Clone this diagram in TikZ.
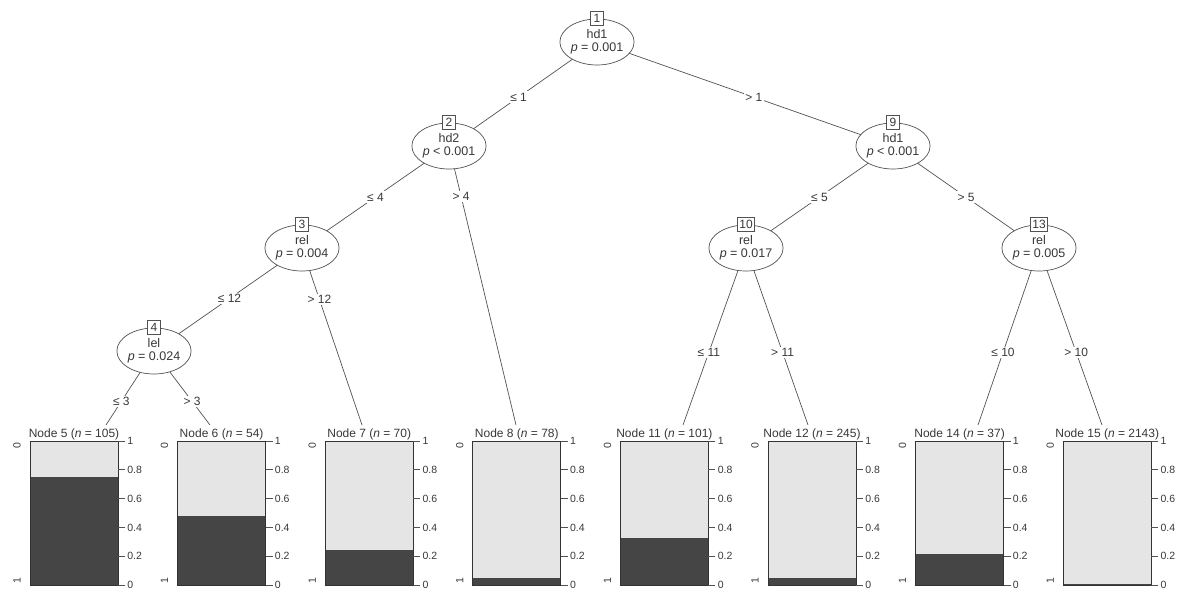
\documentclass[tikz,border=0pt]{standalone}
\usepackage{fontspec}
\setmainfont{Liberation Sans}
\usetikzlibrary{shapes.geometric,backgrounds}
\definecolor{darkbar}{gray}{0.27}
\definecolor{lightbar}{gray}{0.9}
\definecolor{ink}{gray}{0.22}
\definecolor{linec}{gray}{0.32}
\tikzset{
  inner/.style={ellipse, draw=linec, line width=0.7pt, fill=white, minimum width=68pt, minimum height=46pt, inner sep=0pt, text=ink, align=center, font=\fontsize{12.5}{13.5}\selectfont},
  idbox/.style={rectangle, draw=linec, line width=0.7pt, fill=white, inner sep=1.5pt, minimum height=14pt, minimum width=13pt, text=ink, font=\fontsize{12}{12}\selectfont},
  conn/.style={draw=linec, line width=0.7pt},
  elab/.style={fill=white, inner sep=1.5pt, text=ink, font=\fontsize{12}{12}\selectfont},
  leaftitle/.style={inner sep=1pt, text=ink, font=\fontsize{12}{12}\selectfont},
  ticklab/.style={inner sep=2pt, text=ink, font=\fontsize{10.5}{10.5}\selectfont},
  clslab/.style={inner sep=0pt, text=ink, rotate=90, font=\fontsize{10.5}{10.5}\selectfont},
  barframe/.style={draw=black!80, line width=0.7pt},
  axisline/.style={draw=linec, line width=0.7pt}
}
\begin{document}
\begin{tikzpicture}[x=1pt,y=-1pt]
\useasboundingbox (0,0) rectangle (1192,594);

% inner nodes
\node[inner] (n1) at (597,42) {hd1\\\textit{p} = 0.001};
\node[inner] (n2) at (449,146) {hd2\\\textit{p} < 0.001};
\node[inner] (n9) at (893,146) {hd1\\\textit{p} < 0.001};
\node[inner] (n3) at (302,248) {rel\\\textit{p} = 0.004};
\node[inner] (n10) at (746,248) {rel\\\textit{p} = 0.017};
\node[inner] (n13) at (1039,248) {rel\\\textit{p} = 0.005};
\node[inner] (n4) at (154,351) {lel\\\textit{p} = 0.024};

\node[idbox] (b1) at (n1.north) {1};
\node[idbox] (b2) at (n2.north) {2};
\node[idbox] (b9) at (n9.north) {9};
\node[idbox] (b3) at (n3.north) {3};
\node[idbox] (b10) at (n10.north) {10};
\node[idbox] (b13) at (n13.north) {13};
\node[idbox] (b4) at (n4.north) {4};

% leaf connector ends
\coordinate (e5) at (106,425);
\coordinate (e6) at (210,425);
\coordinate (e7) at (362,425);
\coordinate (e8) at (516,425);
\coordinate (e11) at (683,425);
\coordinate (e12) at (808,425);
\coordinate (e14) at (978,425);
\coordinate (e15) at (1102,425);

\begin{scope}[on background layer]
\draw[conn] (n1.center) -- (n2.center) node[elab,pos=0.53] {≤ 1};
\draw[conn] (n1.center) -- (n9.center) node[elab,pos=0.53] {> 1};
\draw[conn] (n2.center) -- (n3.center) node[elab,pos=0.5] {≤ 4};
\draw[conn] (n2.center) -- (e8) node[elab,pos=0.18] {> 4};
\draw[conn] (n9.center) -- (n10.center) node[elab,pos=0.5] {≤ 5};
\draw[conn] (n9.center) -- (n13.center) node[elab,pos=0.5] {> 5};
\draw[conn] (n3.center) -- (n4.center) node[elab,pos=0.49] {≤ 12};
\draw[conn] (n3.center) -- (e7) node[elab,pos=0.29] {> 12};
\draw[conn] (n4.center) -- (e5) node[elab,pos=0.68] {≤ 3};
\draw[conn] (n4.center) -- (e6) node[elab,pos=0.68] {> 3};
\draw[conn] (n10.center) -- (e11) node[elab,pos=0.59] {≤ 11};
\draw[conn] (n10.center) -- (e12) node[elab,pos=0.59] {> 11};
\draw[conn] (n13.center) -- (e14) node[elab,pos=0.59] {≤ 10};
\draw[conn] (n13.center) -- (e15) node[elab,pos=0.59] {> 10};
\end{scope}

% leaves
\foreach \i/\id/\n/\f in {0/5/105/0.752, 1/6/54/0.481, 2/7/70/0.243, 3/8/78/0.051, 4/11/101/0.327, 5/12/245/0.049, 6/14/37/0.216, 7/15/2143/0.004}{
  \pgfmathsetmacro\xa{30+147.6*\i}
  \pgfmathsetmacro\xb{\xa+88}
  \pgfmathsetmacro\yd{585-144*\f}
  \fill[lightbar] (\xa,441) rectangle (\xb,\yd);
  \fill[darkbar] (\xa,\yd) rectangle (\xb,585);
  \draw[barframe] (\xa,441) rectangle (\xb,585);
  \node[leaftitle] (t\id) at (\xa+44,434) {Node \id\ (\textit{n} = \n)};
  \foreach \k/\lab in {0/0,1/0.2,2/0.4,3/0.6,4/0.8,5/1}{
    \draw[axisline] (\xb,585-28.8*\k) -- ++(7,0) node[right,ticklab] {\lab};
  }
  \node[clslab] (c0\id) at (\xa-13,446) {0};
  \node[clslab] (c1\id) at (\xa-13,581) {1};
}
\end{tikzpicture}
\end{document}
